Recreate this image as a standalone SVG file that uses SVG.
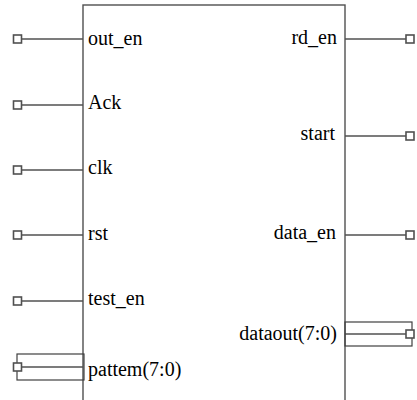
<svg xmlns="http://www.w3.org/2000/svg" width="417" height="400" viewBox="0 0 417 400">
<style>
.w{stroke:#505050;stroke-width:1.4;fill:none}
.p{stroke:#505050;stroke-width:1.6;fill:#fff}
.b{stroke:#404040;stroke-width:1.2;fill:none}
text{font-family:'Liberation Serif','Times New Roman','DejaVu Serif',serif;font-size:20px;fill:#000}
.r{text-anchor:end}
</style>
<rect width="417" height="400" fill="#fff"/>
<g id="block">
<rect class="w" x="83" y="5" width="262" height="400" fill="#fff"/>
</g>
<g id="connectors">
<line class="w" x1="21" y1="39" x2="83" y2="39"/>
<line class="w" x1="21" y1="105" x2="83" y2="105"/>
<line class="w" x1="21" y1="170" x2="83" y2="170"/>
<line class="w" x1="21" y1="235" x2="83" y2="235"/>
<line class="w" x1="21" y1="301" x2="83" y2="301"/>
<line class="w" x1="21" y1="367" x2="83" y2="367"/>
<line class="w" x1="345" y1="39" x2="406" y2="39"/>
<line class="w" x1="345" y1="136" x2="406" y2="136"/>
<line class="w" x1="345" y1="235" x2="406" y2="235"/>
<line class="w" x1="345" y1="334" x2="406" y2="334"/>
</g>
<g id="pin_out_en"><rect class="p" x="13.5" y="35" width="8" height="8"/><text x="88" y="45" font-family="Liberation Serif, serif">out_en</text></g>
<g id="pin_ack"><rect class="p" x="13.5" y="101" width="8" height="8"/><text x="88" y="109" font-family="Liberation Serif, serif">Ack</text></g>
<g id="pin_clk"><rect class="p" x="13.5" y="166" width="8" height="8"/><text x="88" y="174" font-family="Liberation Serif, serif">clk</text></g>
<g id="pin_rst"><rect class="p" x="13.5" y="231" width="8" height="8"/><text x="88" y="240" font-family="Liberation Serif, serif">rst</text></g>
<g id="pin_test_en"><rect class="p" x="13.5" y="297" width="8" height="8"/><text x="88" y="305" font-family="Liberation Serif, serif">test_en</text></g>
<g id="pin_pattem"><rect class="b" x="17" y="354" width="67" height="26"/><rect class="p" x="13.5" y="363" width="8" height="8" fill="none"/><text x="88" y="376" font-family="Liberation Serif, serif">pattem(7:0)</text></g>
<g id="pin_rd_en"><rect class="p" x="406" y="35" width="8" height="8"/><text class="r" x="337" y="44" font-family="Liberation Serif, serif">rd_en</text></g>
<g id="pin_start"><rect class="p" x="406" y="132" width="8" height="8"/><text class="r" x="335" y="140" font-family="Liberation Serif, serif">start</text></g>
<g id="pin_data_en"><rect class="p" x="406" y="231" width="8" height="8"/><text class="r" x="336" y="239" font-family="Liberation Serif, serif">data_en</text></g>
<g id="pin_dataout"><rect class="b" x="345" y="322" width="67" height="24"/><rect class="p" x="406" y="330" width="8" height="8" fill="none"/><text class="r" x="337" y="340" font-family="Liberation Serif, serif">dataout(7:0)</text></g>
</svg>
